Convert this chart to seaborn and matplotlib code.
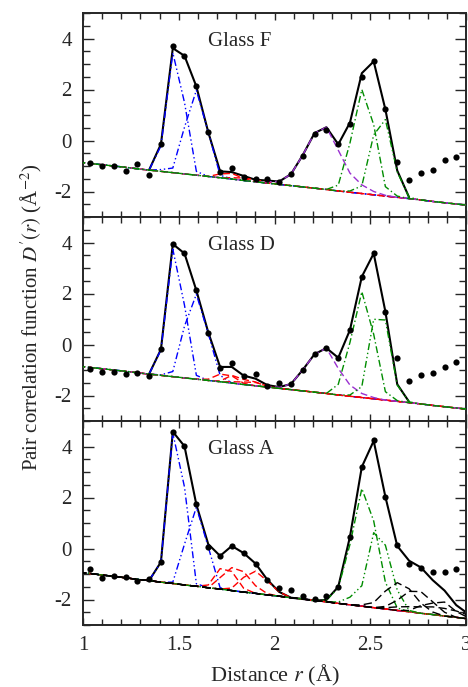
import matplotlib
matplotlib.use("Agg")
import matplotlib.pyplot as plt
from matplotlib.ticker import MultipleLocator, FormatStrFormatter
import numpy as np
import seaborn as sns

sns.set_style("ticks")
plt.rcParams["font.family"] = ["Liberation Serif", "DejaVu Serif"]
plt.rcParams["mathtext.fontset"] = "stix"
plt.rcParams["axes.unicode_minus"] = False

# radial grid (Angstrom) the curves are sampled on
r = [0.975, 1.037, 1.099, 1.160, 1.222, 1.284, 1.345, 1.407, 1.469, 1.530,
     1.592, 1.654, 1.716, 1.777, 1.839, 1.901, 1.962, 2.024, 2.086, 2.147,
     2.209, 2.271, 2.333, 2.394, 2.456, 2.518, 2.579, 2.641, 2.703, 2.764,
     2.826, 2.888, 2.949, 3.011]
r_dots = r[1:33]

# straight background line under the peaks
base_fd = [-0.85, -0.90, -0.95, -1.00, -1.05, -1.11, -1.16, -1.21, -1.26, -1.31,
           -1.36, -1.41, -1.46, -1.51, -1.57, -1.62, -1.67, -1.72, -1.77, -1.82,
           -1.87, -1.92, -1.98, -2.03, -2.08, -2.13, -2.18, -2.23, -2.28, -2.33,
           -2.39, -2.44, -2.49, -2.54]
base_a = [-0.93, -0.98, -1.04, -1.09, -1.15, -1.21, -1.26, -1.32, -1.37, -1.43,
          -1.48, -1.54, -1.59, -1.65, -1.71, -1.76, -1.82, -1.87, -1.93, -1.98,
          -2.04, -2.09, -2.15, -2.21, -2.26, -2.32, -2.37, -2.43, -2.48, -2.54,
          -2.59, -2.65, -2.70, -2.76]

# measured points
dots_f = [-0.89, -0.99, -0.99, -1.19, -0.93, -1.35, -0.14, 3.69, 3.32, 2.12,
          0.33, -1.24, -1.08, -1.45, -1.50, -1.51, -1.61, -1.32, -0.59, 0.25,
          0.41, -0.14, 0.65, 2.49, 3.10, 1.24, -0.86, -1.54, -1.28, -1.15,
          -0.78, -0.65]
dots_d = [-0.97, -1.09, -1.09, -1.16, -1.13, -1.24, -0.19, 3.94, 3.58, 2.14,
          0.44, -0.91, -0.71, -1.22, -1.17, -1.61, -1.50, -1.55, -1.00, -0.39,
          -0.15, -0.52, 0.57, 2.66, 3.58, 1.29, -0.54, -1.42, -1.20, -1.13,
          -0.87, -0.67]
dots_a = [-0.82, -1.14, -1.07, -1.11, -1.27, -1.20, -0.52, 4.57, 4.02, 1.74,
          0.05, -0.29, 0.11, -0.18, -0.60, -1.24, -1.54, -1.61, -1.88, -1.98,
          -1.86, -1.50, 0.46, 3.20, 4.24, 2.01, 0.12, -0.59, -0.78, -0.92,
          -0.92, -0.82]

# peak components: (first grid index, heights above background)
f_blue1 = (7, [1.0, 4.70, 2.8, 0.15])
f_blue2 = (7, [0.07, 0.18, 1.83, 3.33, 1.74, 0.1])
f_red1 = (12, [0.15, 0.22, 0.08])
f_red2 = (13, [0.05, 0.1, 0.08, 0.05])
f_purple = (16, [0.05, 0.11, 0.45, 1.24, 2.16, 2.44, 1.6, 0.75, 0.34, 0.13, 0.03])
f_green1 = (22, [0.23, 1.93, 4.08, 2.75, 0.37, 0.05])
f_green2 = (23, [0.05, 0.3, 2.35, 3.0, 1.0, 0.05])

d_blue1 = (7, [1.0, 5.0, 2.85, 0.15])
d_blue2 = (7, [0.02, 0.2, 2.03, 3.33, 1.84, 0.25])
d_red1 = (11, [0.05, 0.3, 0.28, 0.05])
d_red2 = (12, [0.03, 0.3, 0.2, 0.15, 0.03])
d_red3 = (13, [0.05, 0.1, 0.13, 0.05])
d_purple = (17, [0.05, 0.22, 0.82, 1.49, 1.78, 1.04, 0.44, 0.16, 0.05])
d_green1 = (22, [0.42, 2.11, 4.15, 2.53, 0.33, 0.03])
d_green2 = (23, [0.05, 0.43, 3.12, 3.14, 0.64, 0.03])

a_blue1 = (7, [0.79, 5.9, 3.84, 0.1])
a_blue2 = (8, [0.05, 1.6, 3.1, 1.6, 0.05])
a_red1 = (11, [0.11, 0.8, 0.75, 0.15])
a_red2 = (12, [0.45, 0.9, 0.8, 0.3, 0.05])
a_red3 = (13, [0.1, 0.58, 0.87, 0.55, 0.17])
a_green1 = (21, [0.07, 0.6, 2.37, 4.61, 3.4, 1.05, 0.1])
a_green2 = (22, [0.05, 0.3, 0.8, 2.94, 2.5, 0.8, 0.05])
a_black1 = (24, [0.05, 0.2, 0.7, 1.09, 0.9, 0.4, 0.1])
a_black2 = (26, [0.1, 0.4, 0.8, 0.85, 0.5, 0.15])
a_black3 = (26, [0.05, 0.14, 0.2, 0.25, 0.3, 0.3, 0.25, 0.15])
a_black4 = (28, [0.05, 0.3, 0.45, 0.55, 0.23, 0.05])

BLUE, RED, GREEN, PURPLE = "#0000ff", "#ff0000", "#008c00", "#9a30d0"
DDOT = (0, (5, 2, 1, 2, 1, 2))
DDOT1 = (0, (5, 2, 1, 2))
DASH = (0, (5, 2.5))
KDASH = (0, (6, 3))

panels = [
    ("Glass F", base_fd, dots_f, 29,
     [(f_blue1, BLUE, DDOT), (f_blue2, BLUE, DDOT), (f_red1, RED, DASH), (f_red2, RED, DASH),
      (f_purple, PURPLE, DASH), (f_green1, GREEN, DDOT1), (f_green2, GREEN, DDOT)]),
    ("Glass D", base_fd, dots_d, 29,
     [(d_blue1, BLUE, DDOT), (d_blue2, BLUE, DDOT), (d_red1, RED, DASH), (d_red2, RED, DASH),
      (d_red3, RED, DASH), (d_purple, PURPLE, DASH), (d_green1, GREEN, DDOT1), (d_green2, GREEN, DDOT)]),
    ("Glass A", base_a, dots_a, 34,
     [(a_blue1, BLUE, DDOT), (a_blue2, BLUE, DDOT), (a_red1, RED, DASH), (a_red2, RED, DASH),
      (a_red3, RED, DASH), (a_green1, GREEN, DDOT1), (a_green2, GREEN, DDOT),
      (a_black1, "k", KDASH), (a_black2, "k", KDASH),
      (a_black3, "k", KDASH), (a_black4, "k", KDASH)]),
]


def heights(comp):
    start, vals = comp
    h = np.zeros(len(r))
    h[start:start + len(vals)] = vals
    return h


fig = plt.figure(figsize=(4.68, 6.87), dpi=100)
gs = fig.add_gridspec(3, 1, left=83 / 468, right=466 / 468,
                      top=1 - 13 / 687, bottom=1 - 625 / 687, hspace=0)

for k, (name, base, dots, fit_stop, comps) in enumerate(panels):
    ax = fig.add_subplot(gs[k])
    base = np.array(base)
    total = base.copy()
    for comp, color, ls in comps:
        h = heights(comp)
        total = total + h
        sns.lineplot(x=r, y=base + h, ax=ax, color=color, linestyle=ls, lw=1.0,
                     estimator=None, sort=False, legend=False, zorder=3)
    # fitted sum over the fit range (components are drawn over it)
    sns.lineplot(x=r[6:fit_stop], y=total[6:fit_stop], ax=ax, color="k", lw=1.5,
                 estimator=None, sort=False, legend=False, zorder=2)
    sns.scatterplot(x=r_dots, y=dots, ax=ax, color="k", s=20, linewidth=0, zorder=5)

    ax.text(1.655, 3.9, name, fontsize=15, va="center", ha="left")
    ax.set_xlim(1, 3)
    ax.set_ylim(-3, 5)
    ax.xaxis.set_major_locator(MultipleLocator(0.5))
    ax.xaxis.set_minor_locator(MultipleLocator(0.1))
    ax.xaxis.set_major_formatter(FormatStrFormatter("%g"))
    ax.yaxis.set_major_locator(MultipleLocator(2))
    ax.yaxis.set_minor_locator(MultipleLocator(0.5))
    ax.tick_params(which="both", direction="in", top=True, right=True,
                   labelsize=15, width=1.0, pad=8)
    ax.tick_params(axis="y", which="major", length=8)
    ax.tick_params(axis="y", which="minor", length=5)
    ax.tick_params(axis="x", which="major", length=5)
    ax.tick_params(axis="x", which="minor", length=4)
    for sp in ax.spines.values():
        sp.set_linewidth(1.4)
    ax.set_ylabel("")
    if k < 2:
        ax.tick_params(axis="x", labelbottom=False)
        ax.set_xlabel("")
    else:
        ax.set_xlabel("Distance $r$ (Å)", fontsize=16, labelpad=6)

fig.text(31 / 468, 1 - 317 / 687, "Pair correlation function $D'(r)$ (Å$^{-2}$)",
         rotation=90, fontsize=15, va="center", ha="center")

fig.savefig("out.png", dpi=100)
